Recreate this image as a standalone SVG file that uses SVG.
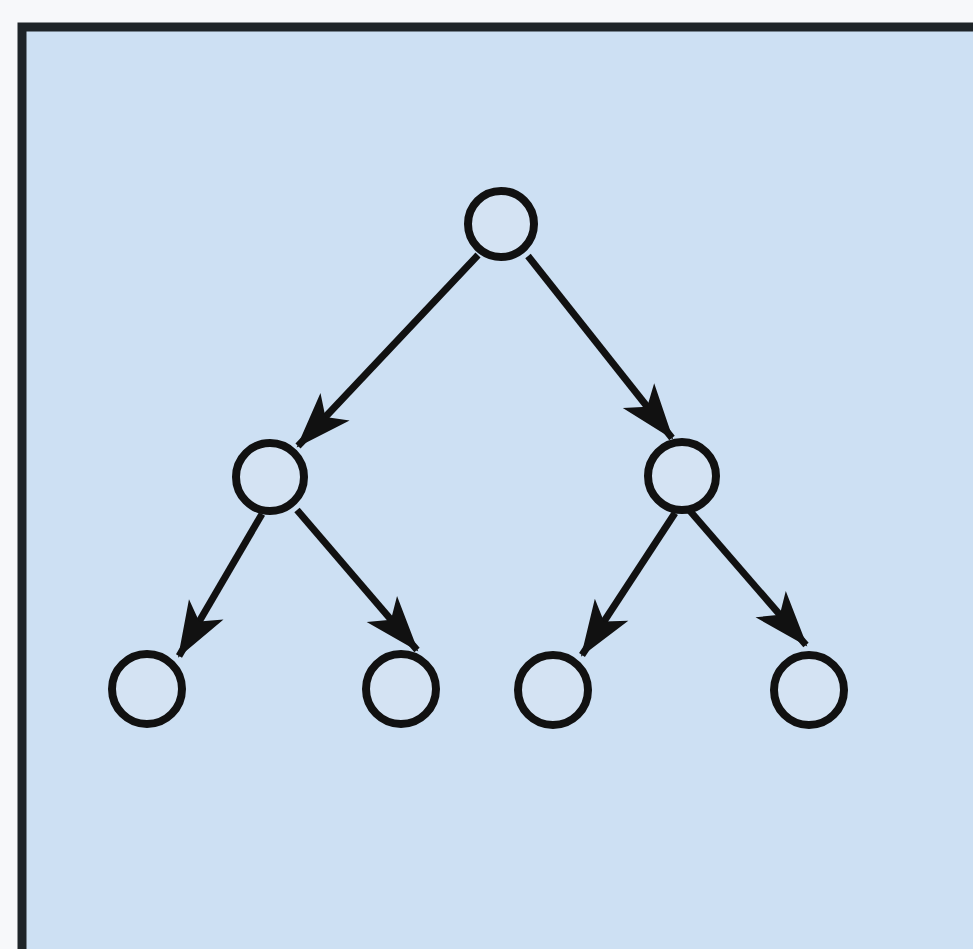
<svg xmlns="http://www.w3.org/2000/svg" width="973" height="949" viewBox="0 0 973 949">
<style>
.node{fill:#d4e3f3;stroke:#111;stroke-width:8}
.edge{stroke:#111;stroke-width:7;fill:none;marker-end:url(#arr)}
</style>
<defs>
<marker id="arr" markerUnits="userSpaceOnUse" viewBox="-56 -24 60 48" refX="0" refY="0" markerWidth="60" markerHeight="48" orient="auto">
<path d="M2,0 L-54,-20 L-40,0 L-54,20 Z" fill="#111"/>
</marker>
</defs>
<rect x="0" y="0" width="973" height="949" fill="#f7f8fa"/>
<rect x="22" y="27" width="970" height="940" fill="#cde0f3" stroke="#1e2428" stroke-width="9"/>
<g id="connectors">
<line class="edge" x1="478" y1="255" x2="298" y2="446"/>
<line class="edge" x1="528" y1="256" x2="672" y2="438"/>
<line class="edge" x1="262" y1="514" x2="179" y2="656"/>
<line class="edge" x1="297" y1="510" x2="417" y2="650"/>
<line class="edge" x1="675" y1="513" x2="582" y2="655"/>
<line class="edge" x1="690" y1="511" x2="806" y2="645"/>
</g>
<g id="n1"><circle class="node" cx="501" cy="224" r="33"/></g>
<g id="n2"><circle class="node" cx="270" cy="477" r="34"/></g>
<g id="n3"><circle class="node" cx="682" cy="476" r="34"/></g>
<g id="n4"><circle class="node" cx="147" cy="689" r="35"/></g>
<g id="n5"><circle class="node" cx="401" cy="689" r="35"/></g>
<g id="n6"><circle class="node" cx="553" cy="690" r="35"/></g>
<g id="n7"><circle class="node" cx="809" cy="690" r="35"/></g>
</svg>
